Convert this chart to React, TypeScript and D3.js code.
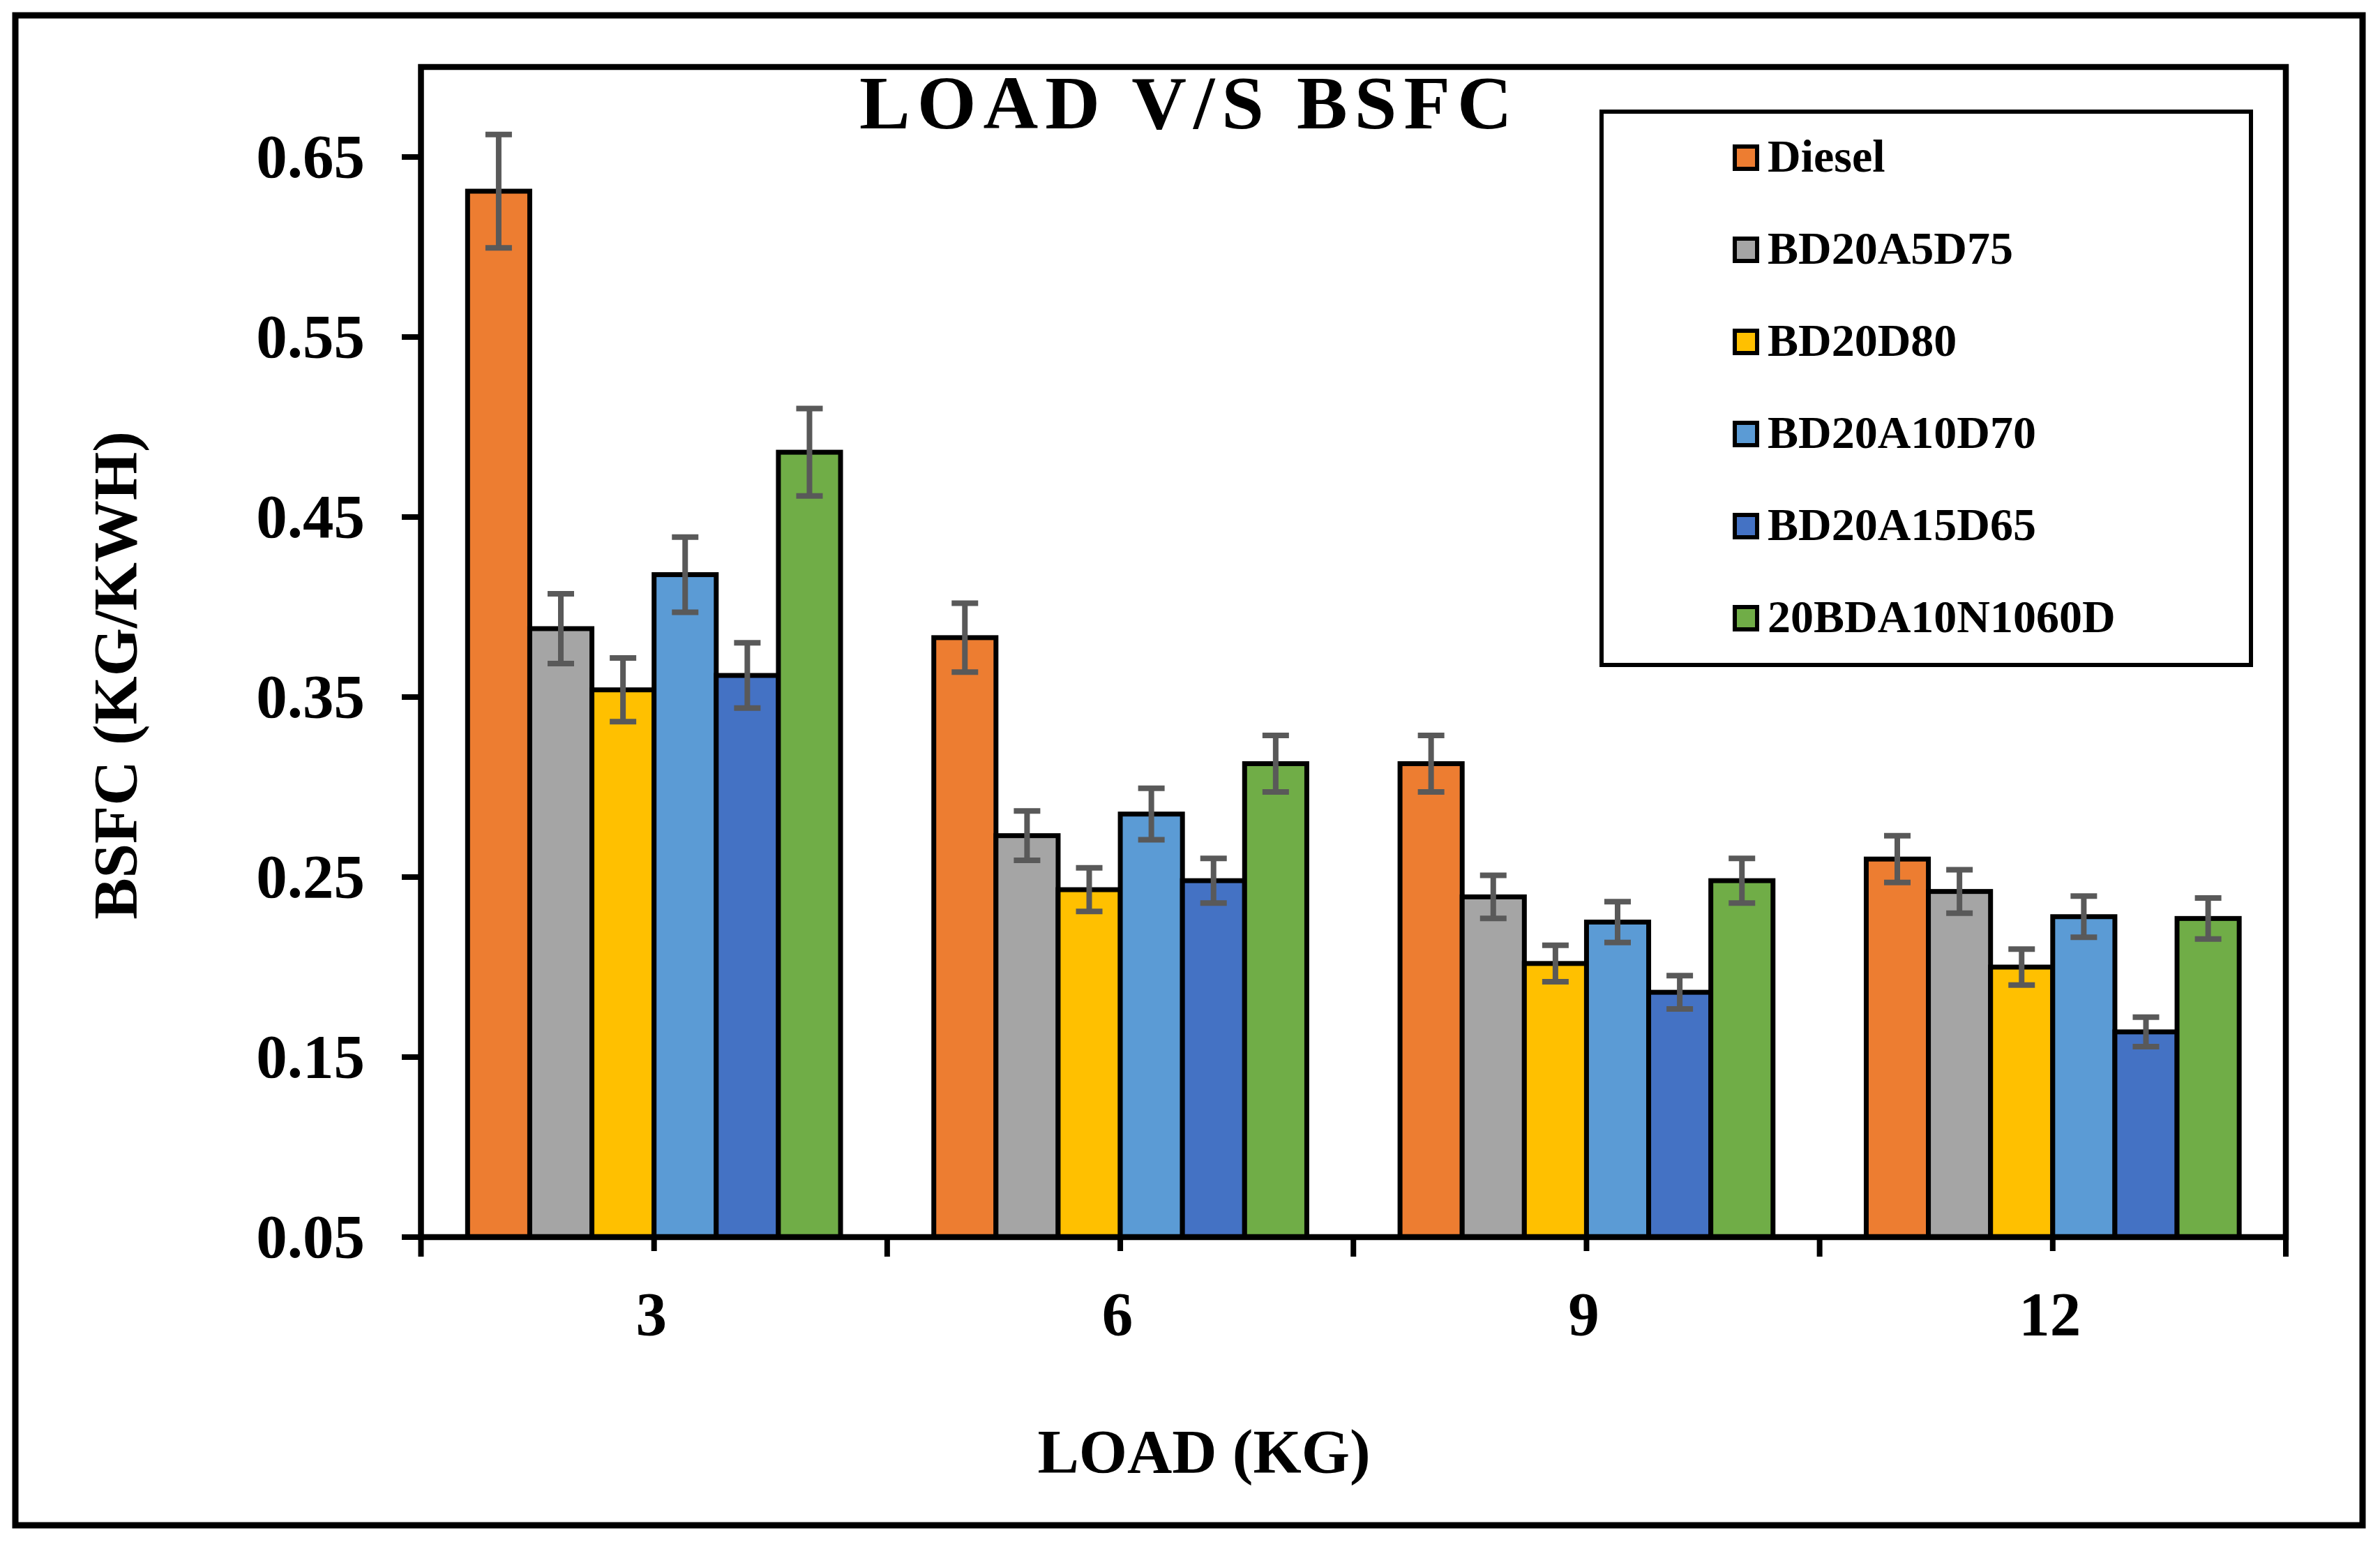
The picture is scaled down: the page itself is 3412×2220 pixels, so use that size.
import React from "react";
import * as d3 from "d3";

const categories = ["3", "6", "9", "12"];
const seriesNames = ["Diesel", "BD20A5D75", "BD20D80", "BD20A10D70", "BD20A15D65", "20BDA10N1060D"];
const seriesColors = ["#ED7D31", "#A5A5A5", "#FFC000", "#5B9BD5", "#4472C4", "#70AD47"];

const diesel = [0.631, 0.383, 0.313, 0.26];
const bd20a5d75 = [0.388, 0.273, 0.239, 0.242];
const bd20d80 = [0.354, 0.243, 0.202, 0.2];
const bd20a10d70 = [0.418, 0.285, 0.225, 0.228];
const bd20a15d65 = [0.362, 0.248, 0.186, 0.164];
const bda10n1060d = [0.486, 0.313, 0.248, 0.227];

const dieselErr = [0.0315, 0.0191, 0.0157, 0.013];
const bd20a5d75Err = [0.0194, 0.0137, 0.012, 0.0121];
const bd20d80Err = [0.0177, 0.0121, 0.0101, 0.01];
const bd20a10d70Err = [0.0209, 0.0143, 0.0113, 0.0114];
const bd20a15d65Err = [0.0181, 0.0124, 0.0093, 0.0082];
const bda10n1060dErr = [0.0243, 0.0157, 0.0124, 0.0114];

const yTicks = [0.05, 0.15, 0.25, 0.35, 0.45, 0.55, 0.65];
const yDomain = [0.05, 0.7];

const title = "LOAD V/S BSFC";
const xTitle = "LOAD (KG)";
const yTitle = "BSFC (KG/KWH)";

const values = [diesel, bd20a5d75, bd20d80, bd20a10d70, bd20a15d65, bda10n1060d];
const errors = [dieselErr, bd20a5d75Err, bd20d80Err, bd20a10d70Err, bd20a15d65Err, bda10n1060dErr];

const W = 3412;
const H = 2220;
const FONT = "'Liberation Serif', 'Times New Roman', serif";

export default function App() {
  const left = 603.5, right = 3277, top = 96, bottom = 1773;
  const y = d3.scaleLinear().domain(yDomain).range([bottom, top]);
  const x0 = d3.scaleBand().domain(categories).range([left, right]).padding(0);
  const x1 = d3
    .scaleBand()
    .domain(seriesNames)
    .range([0, x0.bandwidth()])
    .paddingInner(0)
    .paddingOuter(0.75);

  const boundaries = categories.map((c) => x0(c) as number).concat([right]);

  return (
    <svg
      width={W}
      height={H}
      style={{ position: "absolute", left: 0, top: 0, display: "block", background: "#fff" }}
      fontFamily={FONT}
      fontWeight="bold"
    >
      <rect x={0} y={0} width={W} height={H} fill="#fff" />
      {/* outer border */}
      <rect x={22} y={22} width={3387 - 22} height={2186 - 22} fill="none" stroke="#000" strokeWidth={9} />

      {/* bars */}
      {seriesNames.map((s, si) =>
        categories.map((c, ci) => {
          const v = values[si][ci];
          const bx = (x0(c) as number) + (x1(s) as number);
          return (
            <rect
              key={s + c}
              x={bx}
              y={y(v)}
              width={x1.bandwidth()}
              height={y(yDomain[0]) - y(v)}
              fill={seriesColors[si]}
              stroke="#000"
              strokeWidth={7}
            />
          );
        })
      )}

      {/* error bars */}
      {seriesNames.map((s, si) =>
        categories.map((c, ci) => {
          const v = values[si][ci];
          const e = errors[si][ci];
          const cx = (x0(c) as number) + (x1(s) as number) + x1.bandwidth() / 2;
          const y1 = y(v + e);
          const y2 = y(v - e);
          return (
            <g key={"e" + s + c} stroke="#595959" strokeWidth={8}>
              <line x1={cx} x2={cx} y1={y1} y2={y2} />
              <line x1={cx - 19} x2={cx + 19} y1={y1} y2={y1} />
              <line x1={cx - 19} x2={cx + 19} y1={y2} y2={y2} />
            </g>
          );
        })
      )}

      {/* plot frame */}
      <rect x={left} y={top} width={right - left} height={bottom - top} fill="none" stroke="#000" strokeWidth={8.5} />

      {/* y ticks */}
      {yTicks.map((t) => (
        <g key={"yt" + t}>
          <line x1={576} x2={left} y1={y(t)} y2={y(t)} stroke="#000" strokeWidth={8} />
          <text x={523} y={y(t) + 29} textAnchor="end" fontSize={89} fill="#000">
            {t.toFixed(2)}
          </text>
        </g>
      ))}

      {/* x ticks */}
      {boundaries.map((bx, i) => (
        <line key={"xb" + i} x1={bx} x2={bx} y1={bottom} y2={bottom + 28} stroke="#000" strokeWidth={8} />
      ))}
      {categories.map((c) => {
        const cx = (x0(c) as number) + x0.bandwidth() / 2;
        return (
          <g key={"xc" + c}>
            <line x1={cx} x2={cx} y1={bottom} y2={bottom + 20} stroke="#000" strokeWidth={8} />
            <text x={cx - 4} y={1913} textAnchor="middle" fontSize={89} fill="#000">
              {c}
            </text>
          </g>
        );
      })}

      {/* title */}
      <text x={1232} y={184} fontSize={109} letterSpacing={10} fill="#000">
        {title}
      </text>

      {/* axis titles */}
      <text x={1726} y={2110} textAnchor="middle" fontSize={89} fill="#000">
        {xTitle}
      </text>
      <text
        transform={`translate(195, 968) rotate(-90)`}
        textAnchor="middle"
        fontSize={89}
        fill="#000"
      >
        {yTitle}
      </text>

      {/* legend */}
      <rect x={2296} y={160} width={3227 - 2296} height={953 - 160} fill="#fff" stroke="#000" strokeWidth={6} />
      {seriesNames.map((s, i) => {
        const cy = 226 + i * 132;
        return (
          <g key={"lg" + s}>
            <rect x={2487} y={cy - 16} width={32} height={32} fill={seriesColors[i]} stroke="#000" strokeWidth={6} />
            <text x={2534} y={cy + 20} fontSize={66} fill="#000">
              {s}
            </text>
          </g>
        );
      })}
    </svg>
  );
}
